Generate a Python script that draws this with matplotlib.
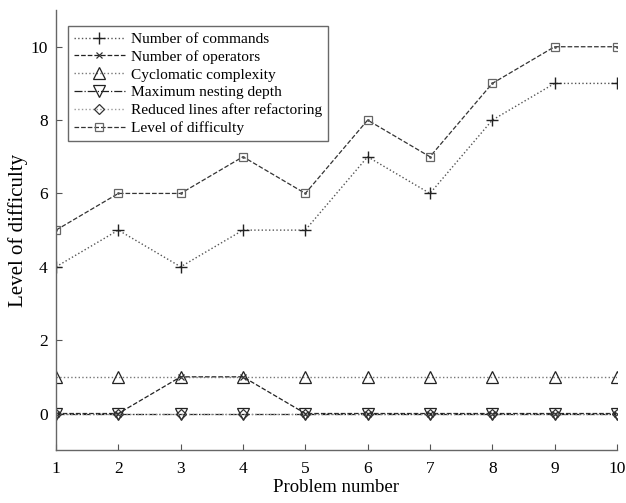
import numpy as np
import matplotlib
matplotlib.use("Agg")
import matplotlib.pyplot as plt

problems = [1, 2, 3, 4, 5, 6, 7, 8, 9, 10]
n_commands = [4, 5, 4, 5, 5, 7, 6, 8, 9, 9]
n_operators = [0, 0, 1, 1, 0, 0, 0, 0, 0, 0]
cyclomatic = [1, 1, 1, 1, 1, 1, 1, 1, 1, 1]
nesting_depth = [0, 0, 0, 0, 0, 0, 0, 0, 0, 0]
reduced_lines = [0, 0, 0, 0, 0, 0, 0, 0, 0, 0]
difficulty = [5, 6, 6, 7, 6, 8, 7, 9, 10, 10]

plt.rcParams['font.family'] = ['Liberation Serif', 'DejaVu Serif']

fig = plt.figure(figsize=(6.26, 5.03), dpi=100)
ax = fig.add_axes([0.0895, 0.105, 0.896, 0.875])

ax.plot(problems, n_commands, linestyle=':', color='#555555', lw=1.0,
        marker='+', markersize=9, markeredgecolor='#222222', markeredgewidth=1.0,
        label='Number of commands')
ax.plot(problems, n_operators, linestyle='--', color='#222222', lw=0.9,
        marker='x', markersize=5, markeredgecolor='#333333', markeredgewidth=0.9,
        label='Number of operators')
ax.plot(problems, cyclomatic, linestyle=':', color='#777777', lw=1.0,
        marker='^', markersize=8, markerfacecolor='none', markeredgecolor='#222222',
        markeredgewidth=0.9, label='Cyclomatic complexity')
ax.plot(problems, nesting_depth, linestyle='-.', color='#222222', lw=0.9,
        marker='v', markersize=8, markerfacecolor='none', markeredgecolor='#222222',
        markeredgewidth=0.9, label='Maximum nesting depth')
ax.plot(problems, reduced_lines, linestyle=':', color='#999999', lw=1.0,
        marker='D', markersize=5.5, markerfacecolor='none', markeredgecolor='#333333',
        markeredgewidth=0.9, label='Reduced lines after refactoring')
ax.plot(problems, difficulty, linestyle='--', color='#333333', lw=0.9,
        marker='s', markersize=5.5, markerfacecolor='none', markeredgecolor='#666666',
        markeredgewidth=0.9, label='Level of difficulty')
ax.plot(problems, difficulty, linestyle='none', marker='.', markersize=2,
        color='#555555')

ax.set_xlim(1, 10)
ax.set_ylim(-1, 11)
ax.set_xticks(problems)
ax.set_yticks([0, 2, 4, 6, 8, 10])
ax.tick_params(direction='in', labelsize=12.5, length=4, color='#555555')
ax.tick_params(axis='x', pad=8)
ax.tick_params(axis='y', pad=6)
ax.spines['top'].set_visible(False)
ax.spines['right'].set_visible(False)
for s in ('left', 'bottom'):
    ax.spines[s].set_color('#666666')
    ax.spines[s].set_linewidth(1.0)

ax.set_xlabel('Problem number', fontsize=13.5, labelpad=1)
ax.set_ylabel('Level of difficulty', fontsize=15, labelpad=2)

leg = ax.legend(loc='upper left', bbox_to_anchor=(0.021, 0.9636), fontsize=11.1,
                frameon=True, fancybox=False, edgecolor='#444444',
                handlelength=3.3, handletextpad=0.4, borderpad=0.4,
                labelspacing=0.26, borderaxespad=0.0)
leg.get_frame().set_linewidth(1.0)

fig.savefig('out.png', dpi=100)
